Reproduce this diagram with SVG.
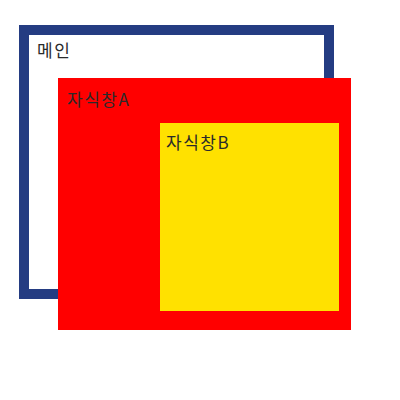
<svg xmlns="http://www.w3.org/2000/svg" width="400" height="400" viewBox="0 0 400 400">
<style>
text{font-family:"Noto Sans CJK KR","Noto Sans",sans-serif;font-size:17px;letter-spacing:1.5px;fill:#2a2a2a}
</style>
<rect width="400" height="400" fill="#fff"/>
<g id="main">
<rect x="24" y="30" width="305" height="264" fill="#fff" stroke="#243c82" stroke-width="10"/>
<text x="37" y="57">메인</text>
</g>
<g id="childA">
<rect x="58" y="78" width="293" height="252" fill="#ff0000"/>
<text x="67" y="106">자식창A</text>
</g>
<g id="childB">
<rect x="160" y="123" width="179" height="188" fill="#ffe100"/>
<text x="166" y="149">자식창B</text>
</g>
<g id="connectors"/>
</svg>
